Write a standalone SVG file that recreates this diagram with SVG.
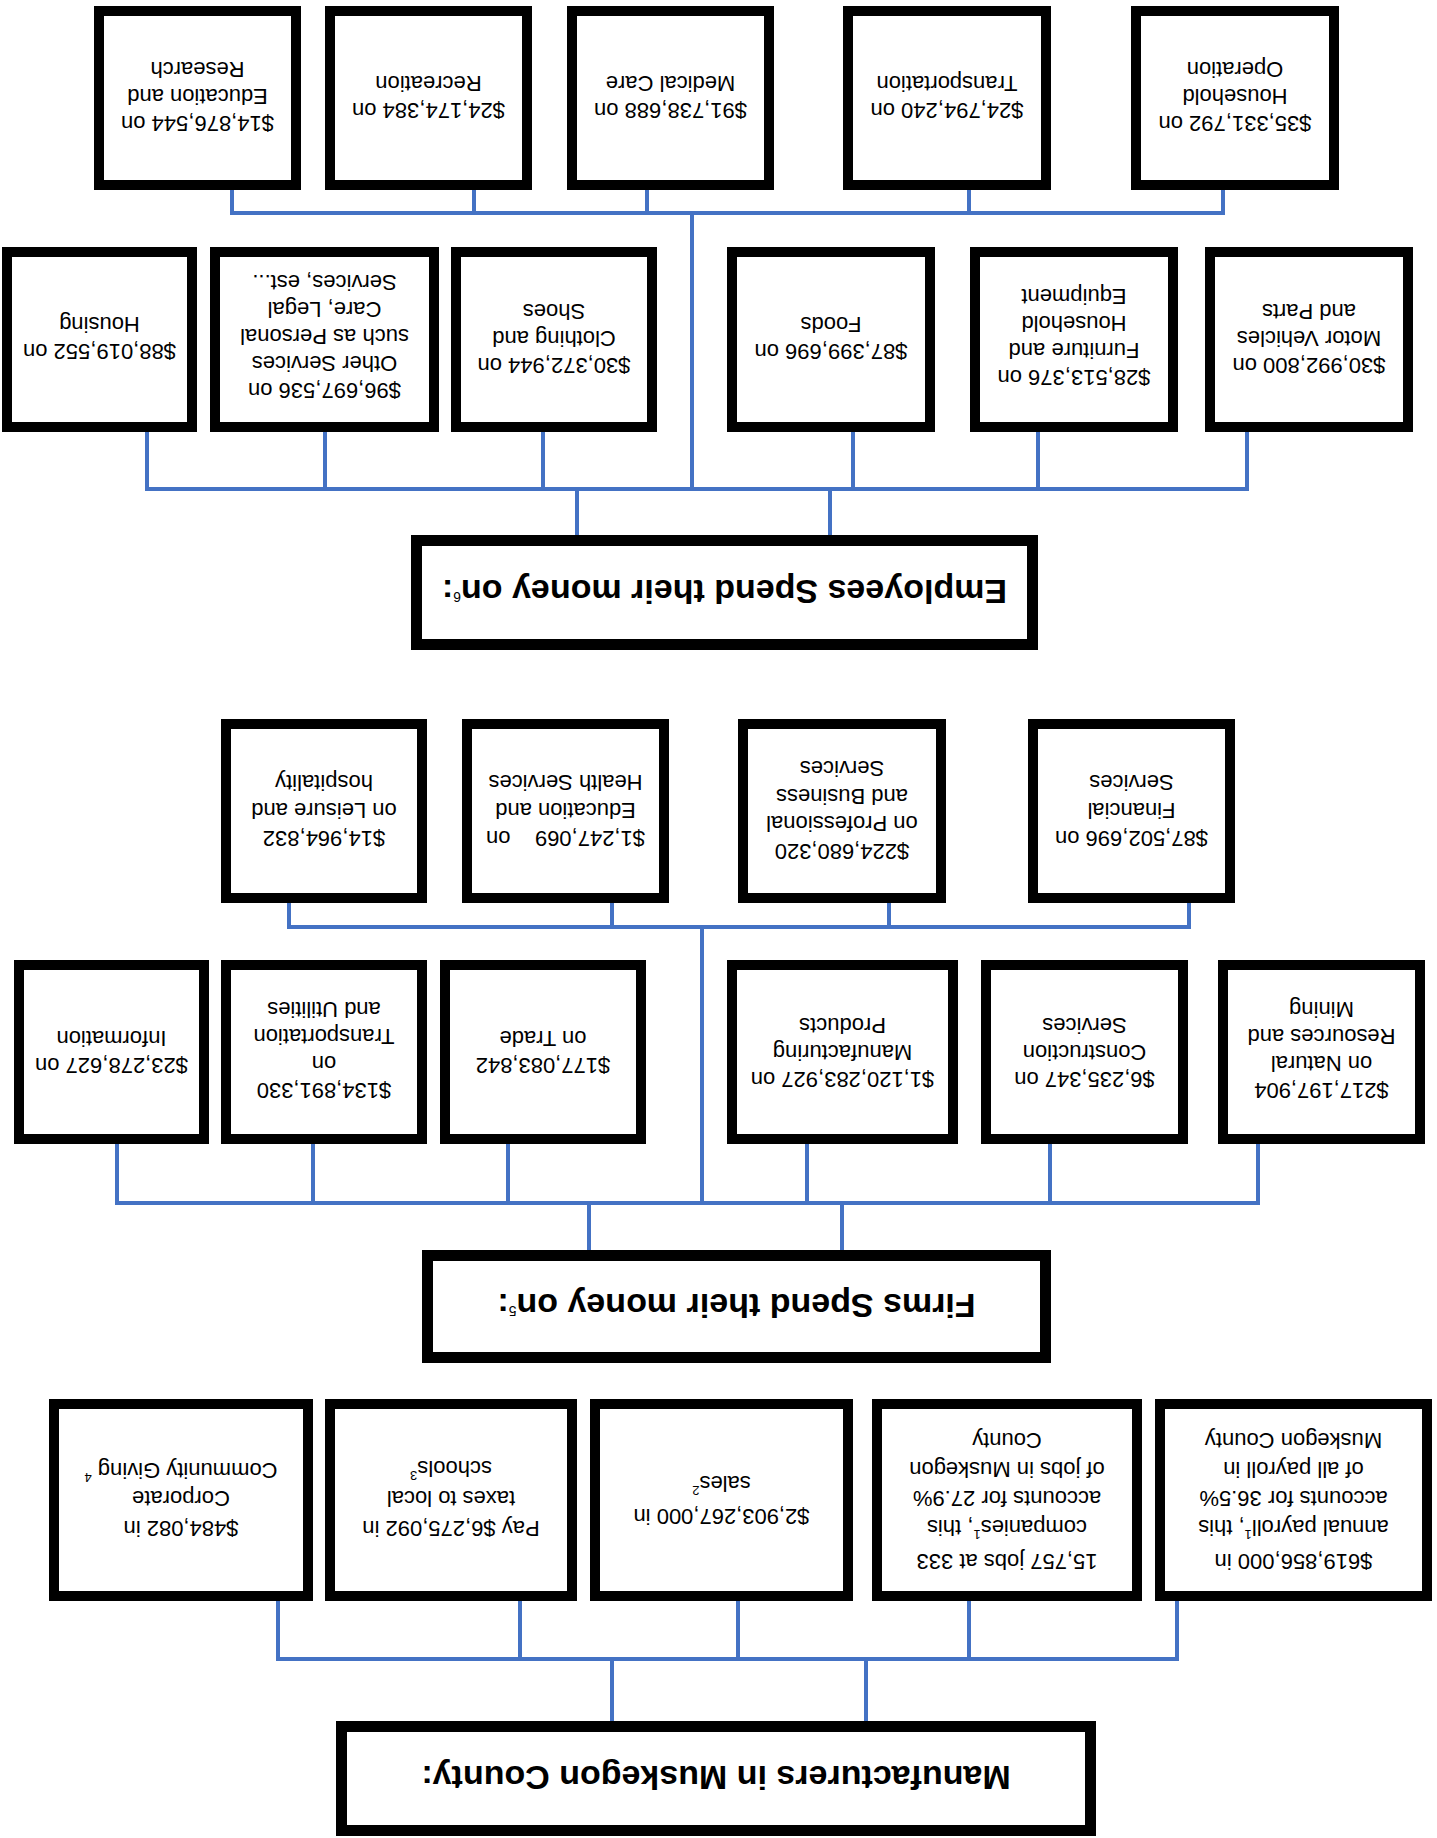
<svg xmlns="http://www.w3.org/2000/svg" width="1437" height="1838" viewBox="0 0 1437 1838">
<style>
.box{fill:#fff;stroke:#000;stroke-width:10}
.ttl{fill:#fff;stroke:#000;stroke-width:11}
.conn{fill:none;stroke:#4472C4;stroke-width:4;stroke-linecap:square}
.t{font-family:"Liberation Sans",Arial,sans-serif;font-size:22px;text-anchor:middle;fill:#000}
.h{font-size:34px;font-weight:bold}
.sup{font-size:13px;font-weight:normal}
.hsup{font-size:14px;font-weight:normal}
</style>
<rect width="1437" height="1838" fill="#fff"/>
<g transform="rotate(180 718.5 919)">
<g id="connectors">
<path class="conn" d="M571 117V179M825 117V179M260 179H1159M260 179V237M468 179V237M699 179V237M917 179V237M1159 179V237"/>
<path class="conn" d="M595 588V635M848 588V635M179 635H1320M179 635V694M387 635V694M630 635V694M929 635V694M1124 635V694M1320 635V694M735 635V911M248 911H1148M248 911V935M548 911V935M825 911V935M1148 911V935"/>
<path class="conn" d="M607 1303V1349M860 1303V1349M190 1349H1290M190 1349V1406M399 1349V1406M584 1349V1406M894 1349V1406M1112 1349V1406M1290 1349V1406M745 1349V1625M214 1625H1205M214 1625V1648M468 1625V1648M790 1625V1648M963 1625V1648M1205 1625V1648"/>
</g>

<g id="manufacturers">
<rect class="ttl" x="346.5" y="7.5" width="749" height="104"/>
<text class="t h" x="721" y="72">Manufacturers in Muskegon County:</text>
</g>
<g id="payroll">
<rect class="box" x="10" y="242" width="267" height="192"/>
<text class="t"><tspan x="143.5" y="284">$619,856,000 in</tspan><tspan x="143.5" y="318">annual payroll<tspan class="sup" dy="-10">1</tspan><tspan dy="10">, this</tspan></tspan><tspan x="143.5" y="347">accounts for 36.5%</tspan><tspan x="143.5" y="376">of all payroll in</tspan><tspan x="143.5" y="405">Muskegon County</tspan></text>
</g>
<g id="jobs">
<rect class="box" x="300" y="242" width="260" height="192"/>
<text class="t"><tspan x="430" y="284">15,757 jobs at 333</tspan><tspan x="430" y="318">companies<tspan class="sup" dy="-10">1</tspan><tspan dy="10">, this</tspan></tspan><tspan x="430" y="347">accounts for 27.9%</tspan><tspan x="430" y="376">of jobs in Muskegon</tspan><tspan x="430" y="405">County</tspan></text>
</g>
<g id="sales">
<rect class="box" x="589" y="242" width="253" height="192"/>
<text class="t"><tspan x="715.5" y="329">$2,903,267,000 in</tspan><tspan x="715.5" y="362">sales<tspan class="sup" dy="-10">2</tspan></tspan></text>
</g>
<g id="taxes">
<rect class="box" x="865" y="242" width="242" height="192"/>
<text class="t"><tspan x="986" y="317.5">Pay $6,275,092 in</tspan><tspan x="986" y="347.5">taxes to local</tspan><tspan x="986" y="377.5">schools<tspan class="sup" dy="-10">3</tspan></tspan></text>
</g>
<g id="giving">
<rect class="box" x="1129" y="242" width="254" height="192"/>
<text class="t"><tspan x="1256" y="317.5">$484,082 in</tspan><tspan x="1256" y="347.5">Corporate</tspan><tspan x="1256" y="375.5">Community Giving <tspan class="sup" dy="-10">4</tspan></tspan></text>
</g>

<g id="firms">
<rect class="ttl" x="391.5" y="480.5" width="618" height="102"/>
<text class="t h" x="700.5" y="544.5">Firms Spend their money on<tspan class="hsup" dy="-12">5</tspan><tspan dy="12">:</tspan></text>
</g>
<g id="natural">
<rect class="box" x="17" y="699" width="197" height="174"/>
<text class="t"><tspan x="115.5" y="755">$217,197,904</tspan><tspan x="115.5" y="782">on Natural</tspan><tspan x="115.5" y="809">Resources and</tspan><tspan x="115.5" y="836">Mining</tspan></text>
</g>
<g id="construction">
<rect class="box" x="254" y="699" width="197" height="174"/>
<text class="t"><tspan x="352.5" y="766.5">$6,235,347 on</tspan><tspan x="352.5" y="793.5">Construction</tspan><tspan x="352.5" y="820.5">Services</tspan></text>
</g>
<g id="manufacturing">
<rect class="box" x="484" y="699" width="221" height="174"/>
<text class="t"><tspan x="594.5" y="766.5">$1,120,283,927 on</tspan><tspan x="594.5" y="793.5">Manufacturing</tspan><tspan x="594.5" y="820.5">Products</tspan></text>
</g>
<g id="trade">
<rect class="box" x="796" y="699" width="196" height="174"/>
<text class="t"><tspan x="894" y="780.5">$177,083,842</tspan><tspan x="894" y="807.5">on Trade</tspan></text>
</g>
<g id="transport-util">
<rect class="box" x="1015" y="699" width="196" height="174"/>
<text class="t"><tspan x="1113" y="755">$134,891,330</tspan><tspan x="1113" y="782">on</tspan><tspan x="1113" y="809">Transportation</tspan><tspan x="1113" y="836">and Utilities</tspan></text>
</g>
<g id="information">
<rect class="box" x="1233" y="699" width="185" height="174"/>
<text class="t"><tspan x="1325.5" y="780.5">$23,278,627 on</tspan><tspan x="1325.5" y="807.5">Information</tspan></text>
</g>
<g id="financial">
<rect class="box" x="207" y="940" width="197" height="174"/>
<text class="t"><tspan x="305.5" y="1007.5">$87,502,696 on</tspan><tspan x="305.5" y="1035.5">Financial</tspan><tspan x="305.5" y="1063.5">Services</tspan></text>
</g>
<g id="professional">
<rect class="box" x="496" y="940" width="198" height="174"/>
<text class="t"><tspan x="595" y="994.5">$224,680,320</tspan><tspan x="595" y="1022">on Professional</tspan><tspan x="595" y="1049.5">and Business</tspan><tspan x="595" y="1077">Services</tspan></text>
</g>
<g id="edu-health">
<rect class="box" x="773" y="940" width="197" height="174"/>
<text class="t"><tspan x="871.5" y="1007.5">$1,247,069&#160;&#160;&#160; on</tspan><tspan x="871.5" y="1035.5">Education and</tspan><tspan x="871.5" y="1063.5">Health Services</tspan></text>
</g>
<g id="leisure">
<rect class="box" x="1015" y="940" width="196" height="174"/>
<text class="t"><tspan x="1113" y="1007.5">$14,964,832</tspan><tspan x="1113" y="1035.5">on Leisure and</tspan><tspan x="1113" y="1063.5">hospitality</tspan></text>
</g>

<g id="employees">
<rect class="ttl" x="404.5" y="1193.5" width="616" height="104"/>
<text class="t h" x="712.5" y="1258.5">Employees Spend their money on<tspan class="hsup" dy="-12">6</tspan><tspan dy="12">:</tspan></text>
</g>
<g id="motor">
<rect class="box" x="29" y="1411" width="198" height="175"/>
<text class="t"><tspan x="128" y="1480.5">$30,992,800 on</tspan><tspan x="128" y="1507.5">Motor Vehicles</tspan><tspan x="128" y="1534.5">and Parts</tspan></text>
</g>
<g id="furniture">
<rect class="box" x="264" y="1411" width="198" height="175"/>
<text class="t"><tspan x="363" y="1468.5">$28,513,376 on</tspan><tspan x="363" y="1495.5">Furniture and</tspan><tspan x="363" y="1522.5">Household</tspan><tspan x="363" y="1549.5">Equipment</tspan></text>
</g>
<g id="foods">
<rect class="box" x="507" y="1411" width="198" height="175"/>
<text class="t"><tspan x="606" y="1494">$87,399,696 on</tspan><tspan x="606" y="1521">Foods</tspan></text>
</g>
<g id="clothing">
<rect class="box" x="785" y="1411" width="196" height="175"/>
<text class="t"><tspan x="883" y="1480.5">$30,372,944 on</tspan><tspan x="883" y="1507.5">Clothing and</tspan><tspan x="883" y="1534.5">Shoes</tspan></text>
</g>
<g id="other">
<rect class="box" x="1003" y="1411" width="219" height="175"/>
<text class="t"><tspan x="1112.5" y="1455.5">$96,697,536 on</tspan><tspan x="1112.5" y="1482.5">Other Services</tspan><tspan x="1112.5" y="1509.5">such as Personal</tspan><tspan x="1112.5" y="1536.5">Care, Legal</tspan><tspan x="1112.5" y="1563.5">Services, est...</tspan></text>
</g>
<g id="housing">
<rect class="box" x="1245" y="1411" width="185" height="175"/>
<text class="t"><tspan x="1337.5" y="1494">$88,019,552 on</tspan><tspan x="1337.5" y="1521">Housing</tspan></text>
</g>
<g id="household-op">
<rect class="box" x="103" y="1653" width="198" height="174"/>
<text class="t"><tspan x="202" y="1722">$35,331,792 on</tspan><tspan x="202" y="1749">Household</tspan><tspan x="202" y="1776">Operation</tspan></text>
</g>
<g id="transportation">
<rect class="box" x="391" y="1653" width="198" height="174"/>
<text class="t"><tspan x="490" y="1735.5">$24,794,240 on</tspan><tspan x="490" y="1762.5">Transportation</tspan></text>
</g>
<g id="medical">
<rect class="box" x="668" y="1653" width="197" height="174"/>
<text class="t"><tspan x="766.5" y="1735.5">$91,738,688 on</tspan><tspan x="766.5" y="1762.5">Medical Care</tspan></text>
</g>
<g id="recreation">
<rect class="box" x="910" y="1653" width="197" height="174"/>
<text class="t"><tspan x="1008.5" y="1735.5">$24,174,384 on</tspan><tspan x="1008.5" y="1762.5">Recreation</tspan></text>
</g>
<g id="education">
<rect class="box" x="1141" y="1653" width="197" height="174"/>
<text class="t"><tspan x="1239.5" y="1722">$14,876,544 on</tspan><tspan x="1239.5" y="1749">Education and</tspan><tspan x="1239.5" y="1776">Research</tspan></text>
</g>
</g>
</svg>
